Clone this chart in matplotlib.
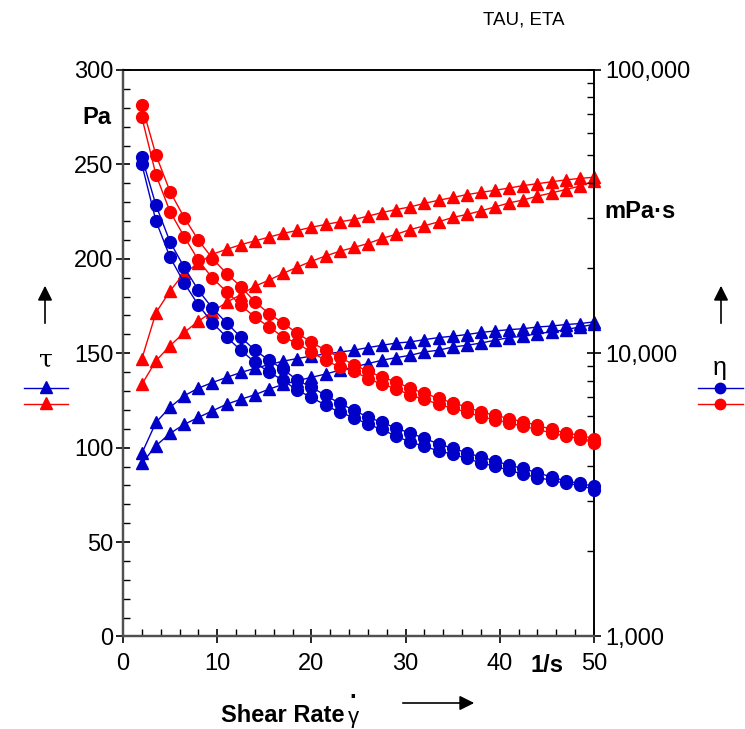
import matplotlib
matplotlib.use("Agg")
import matplotlib.pyplot as plt
from matplotlib.ticker import MultipleLocator, LogLocator, FuncFormatter, NullFormatter
from matplotlib.lines import Line2D

plt.rcParams['font.family'] = ['Liberation Sans', 'DejaVu Sans']

# Shear rate points, 1/s
shear_rate = [2, 3.5, 5, 6.5, 8, 9.5, 11, 12.5, 14, 15.5, 17, 18.5, 20, 21.5, 23,
              24.5, 26, 27.5, 29, 30.5, 32, 33.5, 35, 36.5, 38, 39.5, 41, 42.5,
              44, 45.5, 47, 48.5, 50]

# Shear stress tau, Pa
tau_blue_1 = [97, 113.4, 121.4, 127.5, 131.5, 134.5, 137.2, 139.8, 142, 144, 145.8,
              147.2, 148.5, 149.6, 150.6, 151.6, 153, 154.2, 155.4, 156, 157.2, 158.3,
              159, 159.9, 161, 161.8, 162.5, 163, 163.9, 164.4, 165.2, 165.7, 166.6]
tau_blue_2 = [91.7, 101, 107.6, 112.3, 116, 119.5, 123, 125.6, 128, 131, 133.5, 135.5,
              137.2, 139, 141, 142.7, 144.5, 146.3, 147.7, 148.9, 150.7, 151.6, 153.3,
              154.2, 155.4, 156.9, 158.3, 159, 160.4, 161.3, 162.5, 163.9, 165.3]
tau_red_1 = [147, 171.5, 183, 192.5, 197.6, 202.5, 205, 207.5, 209.5, 211.5, 213.5, 215,
             216.7, 218.2, 219.6, 220.8, 222.6, 224.5, 226.1, 227.5, 229.4, 231, 232.5,
             234, 235.2, 236.3, 237.5, 238.8, 239.8, 240.8, 241.8, 242.6, 243.2]
tau_red_2 = [133.5, 146, 154, 161, 167, 172, 177, 181, 185.5, 188.7, 192.3, 195.6, 198.7,
             201.5, 204, 206, 208.1, 210.8, 213, 215.5, 217.5, 219.6, 221.9, 223.5, 225.4,
             227.5, 229.6, 231.2, 233.2, 234.9, 236.7, 238.5, 241.3]

# Viscosity eta, mPa·s
eta_blue_1 = [49300, 33300, 24700, 20100, 16700, 14400, 12800, 11400, 10250, 9450, 8780,
              8030, 7590, 7100, 6660, 6290, 5950, 5700, 5440, 5220, 5010, 4780, 4620, 4450,
              4300, 4170, 4020, 3920, 3780, 3660, 3540, 3470, 3390]
eta_blue_2 = [46500, 29300, 21800, 17700, 14800, 12800, 11400, 10250, 9290, 8570, 8030,
              7400, 6990, 6550, 6190, 5930, 5610, 5380, 5090, 4860, 4690, 4520, 4400, 4250,
              4100, 3990, 3860, 3740, 3640, 3560, 3470, 3420, 3300]
eta_red_1 = [75200, 50100, 37200, 30100, 25100, 21600, 19100, 17200, 15200, 13800, 12760,
             11770, 10940, 10250, 9680, 9110, 8640, 8230, 7920, 7520, 7220, 6930, 6680,
             6460, 6200, 6040, 5880, 5720, 5570, 5380, 5230, 5130, 5000]
eta_red_2 = [68100, 42600, 31600, 25800, 21300, 18400, 16500, 14800, 13400, 12400, 11400,
             10850, 10080, 9450, 8930, 8640, 8140, 7770, 7500, 7100, 6880, 6600, 6390,
             6200, 5960, 5830, 5670, 5520, 5380, 5230, 5090, 5000, 4820]

BLUE = '#0000C8'
RED = '#FF0000'
FS = 17

fig = plt.figure(figsize=(7.45, 7.29), dpi=100)
ax = fig.add_axes([0.1651, 0.1269, 0.6322, 0.7771])
ax2 = ax.twinx()

ms = 9
for y, c in [(tau_blue_1, BLUE), (tau_blue_2, BLUE), (tau_red_1, RED), (tau_red_2, RED)]:
    ax.plot(shear_rate, y, color=c, lw=1, marker='^', ms=ms, clip_on=False, zorder=3)
for y, c in [(eta_blue_1, BLUE), (eta_blue_2, BLUE), (eta_red_1, RED), (eta_red_2, RED)]:
    ax2.plot(shear_rate, y, color=c, lw=1, marker='o', ms=8.5, clip_on=False, zorder=3)

# left axis: shear stress
ax.set_xlim(0, 50)
ax.set_ylim(0, 300)
ax.xaxis.set_major_locator(MultipleLocator(10))
ax.xaxis.set_minor_locator(MultipleLocator(2))
ax.yaxis.set_major_locator(MultipleLocator(50))
ax.yaxis.set_minor_locator(MultipleLocator(10))
ax.tick_params(axis='both', which='major', direction='inout', length=10, width=1.2,
               labelsize=FS, pad=2)
ax.tick_params(axis='both', which='minor', direction='in', length=5, width=1)
ax.tick_params(axis='x', which='major', pad=7)

# right axis: viscosity, log scale
ax2.set_yscale('log')
ax2.set_ylim(1000, 100000)
ax2.yaxis.set_major_locator(LogLocator(base=10))
ax2.yaxis.set_minor_locator(LogLocator(base=10, subs=range(2, 10)))
ax2.yaxis.set_major_formatter(FuncFormatter(lambda v, p: f'{v:,.0f}'))
ax2.yaxis.set_minor_formatter(NullFormatter())
ax2.tick_params(axis='y', which='major', direction='inout', length=10, width=1.2,
                labelsize=FS, pad=3)
ax2.tick_params(axis='y', which='minor', direction='in', length=5, width=1)

for a in (ax, ax2):
    a.spines['left'].set_color('#505050')
    a.spines['bottom'].set_color('#505050')
    a.spines['left'].set_linewidth(1.6)
    a.spines['bottom'].set_linewidth(1.6)
    a.spines['right'].set_linewidth(1.2)
    a.spines['top'].set_linewidth(1.2)

# unit labels
fig.text(97 / 745, 1 - 118 / 729, 'Pa', fontsize=FS, fontweight='bold',
         ha='center', va='center')
fig.text(640 / 745, 1 - 212 / 729, 'mPa·s', fontsize=FS, fontweight='bold',
         ha='center', va='center')
fig.text(547 / 745, 1 - 665 / 729, '1/s', fontsize=FS, fontweight='bold',
         ha='center', va='center')
fig.text(524 / 745, 1 - 20 / 729, 'TAU, ETA', fontsize=13.5, ha='center', va='center')

# overlay in pixel coordinates for axis captions and legend keys
ov = fig.add_axes([0, 0, 1, 1], zorder=-1)
ov.set_xlim(0, 745)
ov.set_ylim(729, 0)
ov.axis('off')

ov.text(283, 716, 'Shear Rate', fontsize=FS, fontweight='bold', ha='center', va='center')
ov.text(353, 718, 'γ', fontsize=16, ha='center', va='center')
ov.text(353, 697, '·', fontsize=FS, fontweight='bold', ha='center', va='center')
ov.annotate('', xy=(477, 703), xytext=(400, 703),
            arrowprops=dict(arrowstyle='-|>', color='black', lw=1.2, mutation_scale=22))

for x in (45, 721):
    ov.annotate('', xy=(x, 283), xytext=(x, 326),
                arrowprops=dict(arrowstyle='-|>', color='black', lw=1.2, mutation_scale=22))

ov.text(46, 360, 'τ', fontsize=18, ha='center', va='center', family='DejaVu Serif')
ov.text(720, 368, 'η', fontsize=18, ha='center', va='center')

for yy, c in [(388, BLUE), (404, RED)]:
    ov.add_line(Line2D([24, 68], [yy, yy], color=c, lw=1))
    ov.plot([46], [yy - 1], marker='^', color=c, ms=8)
    ov.add_line(Line2D([698, 743], [yy, yy], color=c, lw=1))
    ov.plot([720], [yy], marker='o', color=c, ms=7.5)

fig.savefig('out.png', dpi=100)
